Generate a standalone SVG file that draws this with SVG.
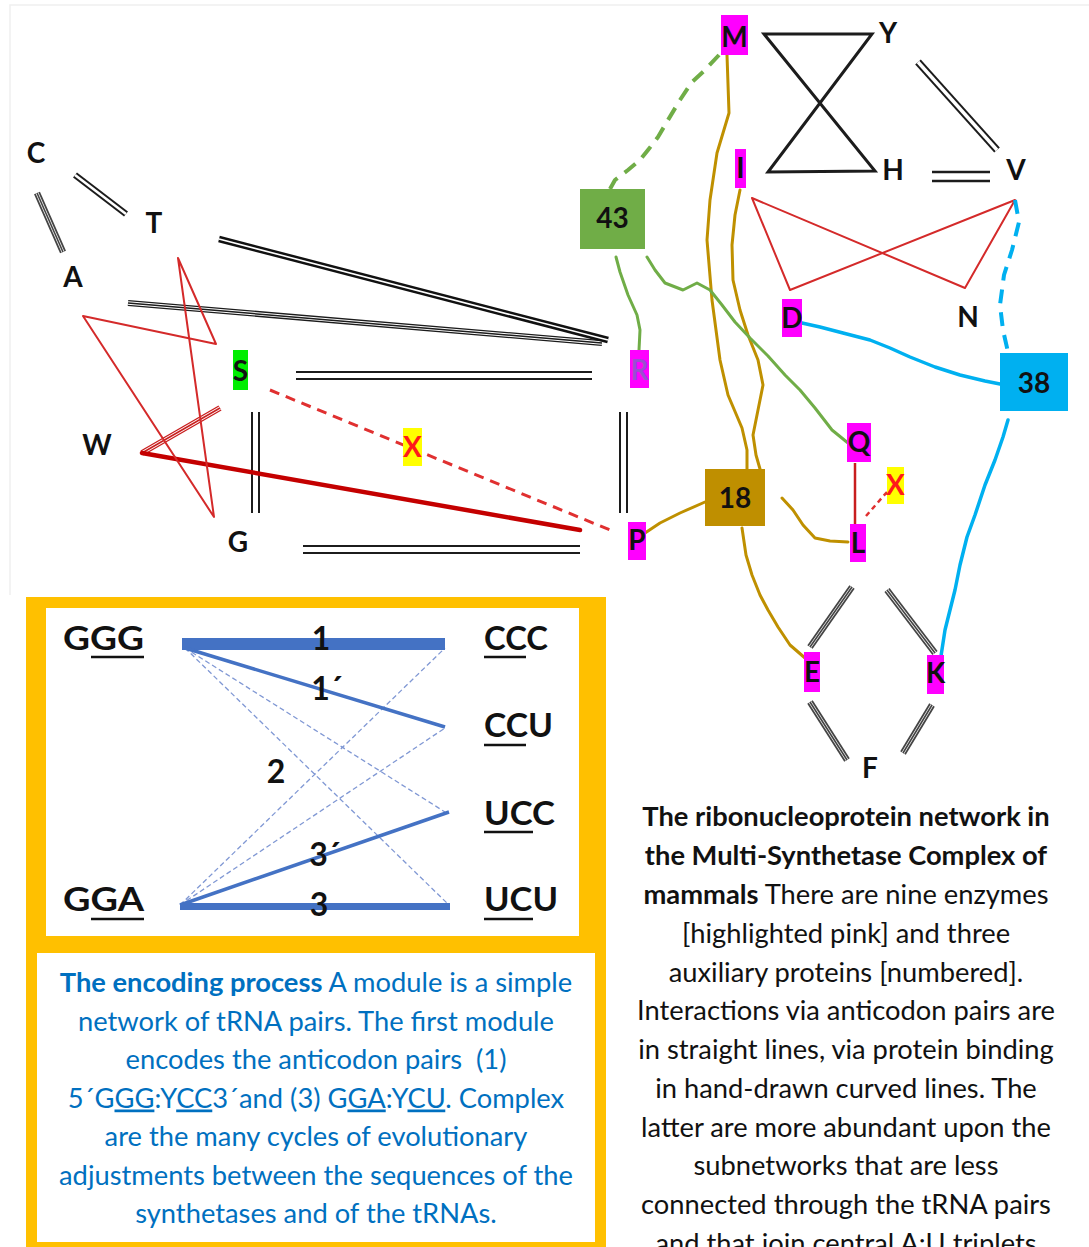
<svg xmlns="http://www.w3.org/2000/svg" xmlns:xlink="http://www.w3.org/1999/xlink" width="1089" height="1247" viewBox="0 0 1089 1247">
<style>
  .lbl{font-family:Lato,"Liberation Sans",sans-serif;font-weight:700;font-size:28px;fill:#111;text-anchor:middle}
  .big{font-family:Lato,"Liberation Sans",sans-serif;font-weight:700;font-size:32px;fill:#111}
  .num{font-family:Lato,"Liberation Sans",sans-serif;font-weight:700;font-size:32px;fill:#111;text-anchor:middle}
  .para{font-family:Lato,"Liberation Sans",sans-serif;font-size:27.3px;text-anchor:middle}
  .blue{fill:#0070c0}
  .ink{fill:#111}
  .pink{fill:#ff00ff}
  .yel{fill:#ffff00}
  .xr{fill:#ff1a1a}
  /* multi-stroke pairing lines */
  .d2o{fill:none;stroke:#1c1c1c;stroke-width:9}
  .d2i{fill:none;stroke:#fff;stroke-width:5}
  .d2so{fill:none;stroke:#1c1c1c;stroke-width:6.5}
  .d2si{fill:none;stroke:#fff;stroke-width:2.6}
  .d2mo{fill:none;stroke:#1c1c1c;stroke-width:7.5}
  .d2mi{fill:none;stroke:#fff;stroke-width:3.4}
  .d2lo{fill:none;stroke:#1c1c1c;stroke-width:11.5}
  .d2li{fill:none;stroke:#fff;stroke-width:6.5}
  .d2ho{fill:none;stroke:#111;stroke-width:6.5}
  .d2hi{fill:none;stroke:#fff;stroke-width:1.6}
  .t3a{fill:none;stroke:#1c1c1c;stroke-width:6}
  .t3b{fill:none;stroke:#fff;stroke-width:3.4}
  .t3c{fill:none;stroke:#1c1c1c;stroke-width:1.5}
  .g3a{fill:none;stroke:#444;stroke-width:6.5}
  .g3b{fill:none;stroke:#fff;stroke-width:3}
  .g3c{fill:none;stroke:#444;stroke-width:1.6}
  .r3a{fill:none;stroke:#c81e1e;stroke-width:6}
  .r3b{fill:none;stroke:#fff;stroke-width:3.2}
  .r3c{fill:none;stroke:#c81e1e;stroke-width:1.5}
  .red{fill:none;stroke:#d42a2a;stroke-width:2;stroke-linejoin:round}
  .redthick{fill:none;stroke:#c40000;stroke-width:4.5;stroke-linecap:round}
  .reddash{fill:none;stroke:#e03030;stroke-width:3;stroke-dasharray:10 7}
  .gold{fill:none;stroke:#bf9000;stroke-width:3;stroke-linejoin:round;stroke-linecap:round}
  .green{fill:none;stroke:#70ad47;stroke-width:3;stroke-linejoin:round;stroke-linecap:round}
  .greendash{fill:none;stroke:#70ad47;stroke-width:4;stroke-dasharray:14 9;stroke-linejoin:round}
  .cyan{fill:none;stroke:#00b0f0;stroke-width:3.5;stroke-linejoin:round;stroke-linecap:round}
  .cyandash{fill:none;stroke:#00b0f0;stroke-width:4;stroke-dasharray:14 9;stroke-linejoin:round}
  .bl{fill:none;stroke:#4472c4;stroke-width:3.5}
  .bld{fill:none;stroke:#8098d4;stroke-width:1.3;stroke-dasharray:5 3}
  .ul{stroke:#111;stroke-width:2.5}
</style>
<defs>
  <path id="gCT" d="M75,175 L126,214"/>
  <path id="gCA" d="M37,193 L63,252"/>
  <path id="gTR" d="M219,239 L608,340"/>
  <path id="gAR" d="M128,303 L602,343"/>
  <path id="gSR" d="M296,375.5 H592"/>
  <path id="gGv" d="M255.5,412 V513"/>
  <path id="gRP" d="M623.5,412 V513"/>
  <path id="gGP" d="M303,549.5 H580"/>
  <path id="gYV" d="M918,62 L997,150"/>
  <path id="gHV" d="M932,176.5 H990"/>
  <path id="gLE" d="M852,587 L810,647"/>
  <path id="gLK" d="M887,590 L935,653"/>
  <path id="gEF" d="M810,702 L847,760"/>
  <path id="gKF" d="M932,705 L903,753"/>
  <path id="gWS" d="M142,453 L220,408"/>
</defs>

<rect width="1089" height="1247" fill="#fff"/>
<path d="M10,595 V5 H1089" fill="none" stroke="#f0f0f0" stroke-width="1.5"/>

<!-- connectors of the network -->
<g id="connectors">
  <!-- anticodon pairings (straight multi-lines) -->
  <use xlink:href="#gCT" class="d2so"/><use xlink:href="#gCT" class="d2si"/>
  <use xlink:href="#gCA" class="g3a"/><use xlink:href="#gCA" class="g3b"/><use xlink:href="#gCA" class="g3c"/>
  <use xlink:href="#gAR" class="t3a"/><use xlink:href="#gAR" class="t3b"/><use xlink:href="#gAR" class="t3c"/>
  <use xlink:href="#gTR" class="d2ho"/><use xlink:href="#gTR" class="d2hi"/>
  <use xlink:href="#gSR" class="d2o"/><use xlink:href="#gSR" class="d2i"/>
  <use xlink:href="#gGv" class="d2o"/><use xlink:href="#gGv" class="d2i"/>
  <use xlink:href="#gRP" class="d2o"/><use xlink:href="#gRP" class="d2i"/>
  <use xlink:href="#gGP" class="d2o"/><use xlink:href="#gGP" class="d2i"/>
  <use xlink:href="#gYV" class="d2mo"/><use xlink:href="#gYV" class="d2mi"/>
  <use xlink:href="#gHV" class="d2lo"/><use xlink:href="#gHV" class="d2li"/>
  <use xlink:href="#gLE" class="g3a"/><use xlink:href="#gLE" class="g3b"/><use xlink:href="#gLE" class="g3c"/>
  <use xlink:href="#gLK" class="g3a"/><use xlink:href="#gLK" class="g3b"/><use xlink:href="#gLK" class="g3c"/>
  <use xlink:href="#gEF" class="g3a"/><use xlink:href="#gEF" class="g3b"/><use xlink:href="#gEF" class="g3c"/>
  <use xlink:href="#gKF" class="g3a"/><use xlink:href="#gKF" class="g3b"/><use xlink:href="#gKF" class="g3c"/>
  <polygon points="764,34 872,34 768,172 875,171" fill="none" stroke="#1c1c1c" stroke-width="3" stroke-linejoin="miter"/>

  <!-- red links -->
  <use xlink:href="#gWS" class="r3a"/><use xlink:href="#gWS" class="r3b"/><use xlink:href="#gWS" class="r3c"/>
  <path class="redthick" d="M142,453 L580,530"/>
  <polygon class="red" points="83,316 216,344 178,258 214,517"/>
  <path class="reddash" d="M270,390 L610,530"/>
  <polygon class="red" points="752,198 965,288 1015,200 790,290"/>
  <path d="M855,463 V527" fill="none" stroke="#c81e1e" stroke-width="2.5"/>
  <path d="M866,516 L887,492" fill="none" stroke="#e03030" stroke-width="2.5" stroke-dasharray="5 4"/>

  <!-- protein binding (hand-drawn curves) -->
  <polyline class="gold" points="727,55 729,113 717,153 710,200 707,240 712,300 720,360 728,395 742,428 747,450 747,469"/>
  <polyline class="gold" points="740,190 735,215 732,245 733,280 740,310 748,335 758,360 763,385 758,410 753,435 756,455 760,469"/>
  <polyline class="gold" points="645,533 660,523 680,513 705,502"/>
  <polyline class="gold" points="782,498 793,510 803,525 815,538 830,541 848,542"/>
  <polyline class="gold" points="742,528 746,555 752,575 760,595 768,610 778,627 790,645 805,658"/>
  <polyline class="green" points="616,257 620,272 628,295 637,315 640,330 639,350"/>
  <polyline class="green" points="647,257 655,270 665,283 683,290 697,283 710,290 722,305 735,322 750,338 768,356 785,375 800,390 815,408 832,430 848,443"/>
  <polyline class="greendash" points="719,55 705,70 692,82 680,100 668,120 658,137 648,150 640,160 628,170 615,180 610,189"/>
  <polyline class="cyan" points="802,323 820,327 843,333 870,340 890,348 910,357 935,367 960,375 985,381 1000,384"/>
  <polyline class="cyan" points="1008,420 1003,437 995,460 985,485 975,515 967,537 960,565 955,590 950,610 945,630 941,656"/>
  <polyline class="cyandash" points="1015,200 1019,222 1012,250 1004,275 1000,305 1003,330 1008,352"/>
</g>

<!-- tRNA nodes -->
<g id="node-C"><text class="lbl" x="36" y="163">C</text></g>
<g id="node-T"><text class="lbl" x="154" y="233">T</text></g>
<g id="node-A"><text class="lbl" x="73" y="287">A</text></g>
<g id="node-W"><text class="lbl" x="97" y="455">W</text></g>
<g id="node-G"><text class="lbl" x="238" y="552">G</text></g>
<g id="node-S"><rect x="233" y="350" width="15" height="40" fill="#00ee00"/><text class="lbl" x="240.5" y="381">S</text></g>
<g id="node-X1"><rect x="403" y="428" width="19" height="38" class="yel"/><text class="lbl xr" x="412.5" y="457">X</text></g>
<g id="node-R"><rect x="630" y="350" width="19" height="38" class="pink"/><text class="lbl" x="639.5" y="380" style="fill:#9a4fd0">R</text></g>
<g id="node-P"><rect x="628" y="522" width="18" height="38" class="pink"/><text class="lbl" x="637" y="550">P</text></g>
<g id="node-M"><rect x="721" y="15" width="27" height="40" class="pink"/><text class="lbl" x="734.5" y="47">M</text></g>
<g id="node-Y"><text class="lbl" x="888" y="43">Y</text></g>
<g id="node-I"><rect x="735" y="149" width="11" height="39" class="pink"/><text class="lbl" x="740.5" y="178">I</text></g>
<g id="node-H"><text class="lbl" x="893" y="180">H</text></g>
<g id="node-V"><text class="lbl" x="1016" y="180">V</text></g>
<g id="node-D"><rect x="782" y="299" width="20" height="38" class="pink"/><text class="lbl" x="792" y="328">D</text></g>
<g id="node-N"><text class="lbl" x="968" y="327">N</text></g>
<g id="node-Q"><rect x="847" y="423" width="24" height="39" class="pink"/><text class="lbl" x="859" y="452">Q</text></g>
<g id="node-X2"><rect x="887" y="467" width="17" height="37" class="yel"/><text class="lbl xr" x="895.5" y="495">X</text></g>
<g id="node-L"><rect x="850" y="524" width="16" height="38" class="pink"/><text class="lbl" x="858" y="553">L</text></g>
<g id="node-E"><rect x="804" y="652" width="16" height="40" class="pink"/><text class="lbl" x="812" y="682">E</text></g>
<g id="node-K"><rect x="927" y="655" width="17" height="39" class="pink"/><text class="lbl" x="935.5" y="683">K</text></g>
<g id="node-F"><text class="lbl" x="870" y="778">F</text></g>

<!-- auxiliary proteins -->
<g id="node-43"><rect x="580" y="189" width="65" height="60" fill="#70ad47"/><text class="lbl" x="612.5" y="228">43</text></g>
<g id="node-38"><rect x="1000" y="353" width="68" height="58" fill="#00b0f0"/><text class="lbl" x="1034" y="393">38</text></g>
<g id="node-18"><rect x="705" y="469" width="60" height="57" fill="#bf8f00"/><text class="lbl" x="735" y="508">18</text></g>

<!-- module panel -->
<g id="module-panel">
  <rect x="26" y="597" width="580" height="660" fill="#ffc000"/>
  <rect x="46" y="608" width="533" height="328" fill="#fff"/>
  <rect x="37" y="953" width="558" height="289" fill="#fff"/>
</g>
<g id="module-links">
  <path class="bld" d="M185,648 L445,812 M185,648 L449,905 M180,905 L445,648 M180,905 L445,728"/>
  <rect x="182" y="638" width="263" height="12" fill="#4472c4"/>
  <path class="bl" d="M185,648 L445,727"/>
  <path class="bl" d="M180,905 L449,812"/>
  <rect x="180" y="903" width="270" height="7" fill="#4472c4"/>
</g>
<g id="module-GGG"><text class="big" x="63" y="650" textLength="81" lengthAdjust="spacingAndGlyphs">GGG</text><line class="ul" x1="91" y1="657" x2="144" y2="657"/></g>
<g id="module-GGA"><text class="big" x="63" y="911" textLength="81" lengthAdjust="spacingAndGlyphs">GGA</text><line class="ul" x1="91" y1="919" x2="144" y2="919"/></g>
<g id="module-CCC"><text class="big" x="484" y="650" textLength="64" lengthAdjust="spacingAndGlyphs">CCC</text><line class="ul" x1="484" y1="657" x2="526" y2="657"/></g>
<g id="module-CCU"><text class="big" x="484" y="737" textLength="69" lengthAdjust="spacingAndGlyphs">CCU</text><line class="ul" x1="484" y1="745" x2="526" y2="745"/></g>
<g id="module-UCC"><text class="big" x="484" y="825" textLength="71" lengthAdjust="spacingAndGlyphs">UCC</text><line class="ul" x1="484" y1="832" x2="533" y2="832"/></g>
<g id="module-UCU"><text class="big" x="484" y="911" textLength="74" lengthAdjust="spacingAndGlyphs">UCU</text><line class="ul" x1="484" y1="919" x2="533" y2="919"/></g>
<g id="module-labels">
  <text class="num" x="321" y="650">1</text>
  <text class="num" x="327" y="700">1´</text>
  <text class="num" x="325" y="866">3´</text>
  <text class="num" x="276" y="783">2</text>
  <text class="num" x="319" y="916">3</text>
</g>

<!-- captions -->
<g id="caption-module" class="para blue">
  <text x="316" y="992"><tspan font-weight="700">The encoding process</tspan> A module is a simple</text>
  <text x="316" y="1030.5">network of tRNA pairs. The first module</text>
  <text x="316" y="1069" xml:space="preserve">encodes the anticodon pairs  (1)</text>
  <text x="316" y="1107.5">5´G<tspan text-decoration="underline">GG</tspan>:Y<tspan text-decoration="underline">CC</tspan>3´and (3) G<tspan text-decoration="underline">GA</tspan>:Y<tspan text-decoration="underline">CU</tspan>. Complex</text>
  <text x="316" y="1146">are the many cycles of evolutionary</text>
  <text x="316" y="1184.5">adjustments between the sequences of the</text>
  <text x="316" y="1223">synthetases and of the tRNAs.</text>
</g>
<g id="caption-network" class="para ink">
  <text x="846" y="826" font-weight="700">The ribonucleoprotein network in</text>
  <text x="846" y="865" font-weight="700">the Multi-Synthetase Complex of</text>
  <text x="846" y="904"><tspan font-weight="700">mammals</tspan> There are nine enzymes</text>
  <text x="846" y="943">[highlighted pink] and three</text>
  <text x="846" y="981.5">auxiliary proteins [numbered].</text>
  <text x="846" y="1020">Interactions via anticodon pairs are</text>
  <text x="846" y="1059">in straight lines, via protein binding</text>
  <text x="846" y="1098">in hand-drawn curved lines. The</text>
  <text x="846" y="1136.5">latter are more abundant upon the</text>
  <text x="846" y="1175">subnetworks that are less</text>
  <text x="846" y="1214">connected through the tRNA pairs</text>
  <text x="846" y="1253">and that join central A:U triplets</text>
</g>
</svg>
